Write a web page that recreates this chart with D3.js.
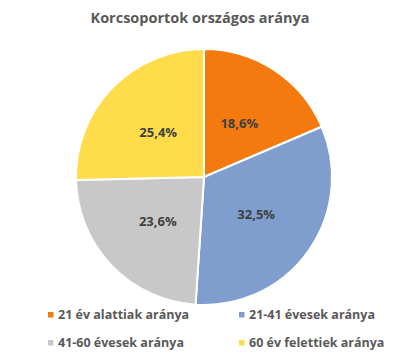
<!DOCTYPE html>
<html><head><meta charset="utf-8">
<script src="https://cdn.jsdelivr.net/npm/d3@7"></script>
<style>body{margin:0;background:#fff}svg{display:block}</style>
</head><body>
<svg id="c" width="400" height="359"></svg>
<script>
const title = "Korcsoportok országos aránya";
const categories = ["21 év alattiak aránya","21-41 évesek aránya","41-60 évesek aránya","60 év felettiek aránya"];
const values = [18.6, 32.5, 23.6, 25.4];
const labels = ["18,6%","32,5%","23,6%","25,4%"];
const colors = ["#F4790E","#7F9DCD","#C8C8C8","#FFDC4A"];

const svg = d3.select("#c");
const font = "'Open Sans', 'Liberation Sans', sans-serif";
const cx = 204, cy = 177, R = 128;

svg.append("text").attr("x", 200).attr("y", 23).attr("text-anchor","middle")
  .attr("font-family", font).attr("font-weight","bold").attr("font-size", 14.5)
  .attr("fill","#595959").text(title);

const pie = d3.pie().sort(null).value(d => d)(values);
const arc = d3.arc().innerRadius(0).outerRadius(R);
const g = svg.append("g").attr("transform", `translate(${cx},${cy})`);
g.selectAll("path").data(pie).join("path")
  .attr("d", arc).attr("fill", (d,i) => colors[i])
  .attr("stroke","#fff").attr("stroke-width", 2).attr("stroke-linejoin","round");
g.selectAll("text").data(pie).join("text")
  .attr("transform", d => `translate(${arc.centroid(d)})`)
  .attr("text-anchor","middle").attr("dy","0.35em")
  .attr("font-family", font).attr("font-weight","bold").attr("font-size", 13)
  .attr("fill","#404040").text((d,i) => labels[i]);

const legX = [48, 239], legY = [315, 343];
const lg = svg.append("g");
categories.forEach((c,i) => {
  const x = legX[i%2], y = legY[Math.floor(i/2)];
  lg.append("rect").attr("x", x).attr("y", y-3).attr("width",5.5).attr("height",5.5).attr("fill", colors[i]);
  lg.append("text").attr("x", x+10).attr("y", y).attr("dy","0.35em")
    .attr("font-family", font).attr("font-weight","bold").attr("font-size", 12.5)
    .attr("fill","#595959").text(c);
});
</script>
</body></html>
